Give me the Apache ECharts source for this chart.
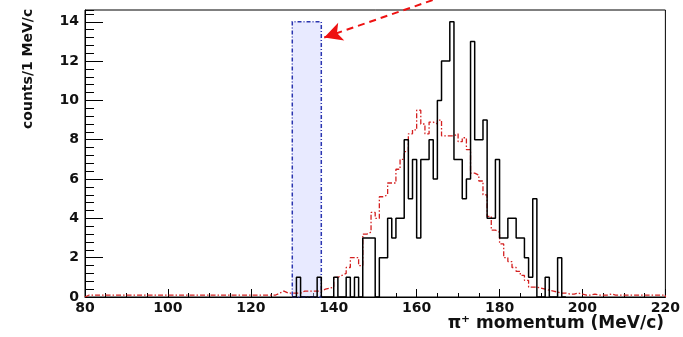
<!DOCTYPE html>
<html>
<head>
<meta charset="utf-8">
<script src="https://cdn.jsdelivr.net/npm/echarts@6/dist/echarts.min.js"></script>
<style>
  html, body { margin: 0; padding: 0; background: #fff; }
  #chart { width: 683px; height: 337px; }
</style>
</head>
<body>
<div id="chart"></div>
<script>
// x axis ticks (MeV/c) and y ticks (counts)
var xTicks = [80, 100, 120, 140, 160, 180, 200, 220];
var yTicks = [0, 2, 4, 6, 8, 10, 12, 14];

// data histogram, 1 MeV/c bins, first bin starts at blackStart
var blackStart = 130;
var blackCounts = [
  0, 1, 0, 0, 0, 0, 1, 0, 0, 0,     // 130-139
  1, 0, 0, 1, 0, 1, 0, 3, 3, 3,     // 140-149
  0, 2, 2, 4, 3, 4, 4, 8, 5, 7,     // 150-159
  3, 7, 7, 8, 6, 10, 12, 12, 14, 7, // 160-169
  7, 5, 6, 13, 8, 8, 9, 4, 4, 7,    // 170-179
  3, 3, 4, 4, 3, 3, 2, 1, 5, 0,     // 180-189
  0, 1, 0, 0, 2, 0                  // 190-195
];

// simulation histogram (red dashed), 1 MeV/c bins from redStart
var redStart = 80;
var redCounts = [
  0.1, 0.1, 0.1, 0.1, 0.1, 0.1, 0.1, 0.1, 0.1, 0.1,   // 80-89
  0.1, 0.1, 0.1, 0.1, 0.1, 0.1, 0.1, 0.1, 0.1, 0.1,   // 90-99
  0.1, 0.1, 0.1, 0.1, 0.1, 0.1, 0.1, 0.1, 0.1, 0.1,   // 100-109
  0.1, 0.1, 0.1, 0.1, 0.1, 0.1, 0.1, 0.1, 0.1, 0.1,   // 110-119
  0.1, 0.1, 0.1, 0.1, 0.1, 0.1, 0.2, 0.3, 0.2, 0.2,   // 120-129
  0.2, 0.2, 0.3, 0.3, 0.3, 0.3, 0.3, 0.4, 0.45, 0.5,  // 130-139
  1.0, 1.1, 1.2, 1.5, 2.0, 2.0, 1.6, 3.2, 3.3, 4.3,   // 140-149
  4.0, 5.1, 5.2, 5.8, 5.8, 6.5, 7.0, 7.4, 8.3, 8.5,   // 150-159
  9.5, 8.8, 8.3, 8.9, 8.8, 9.0, 8.2, 8.2, 8.2, 8.3,   // 160-169
  7.9, 8.1, 7.5, 6.3, 6.2, 5.9, 5.2, 4.1, 3.4, 3.3,   // 170-179
  2.7, 2.0, 1.8, 1.5, 1.3, 1.1, 0.85, 0.5, 0.5, 0.45, // 180-189
  0.4, 0.35, 0.3, 0.25, 0.2, 0.2, 0.15, 0.15, 0.2, 0.15, // 190-199
  0.1, 0.1, 0.15, 0.1, 0.1, 0.1, 0.15, 0.1, 0.1, 0.1, // 200-209
  0.1, 0.1, 0.1, 0.1, 0.1, 0.1, 0.1, 0.1, 0.1, 0.1    // 210-219
];

// highlighted window and the arrow pointing at it
var boxRange = [130, 137];
var boxTop = 14;
var arrowFrom = [166.6, 15.3];
var arrowTo = [137.7, 13.2];

// turn bin contents into step points (step: 'end')
function histPoints(start, counts) {
  var pts = [[start, 0]];
  for (var i = 0; i < counts.length; i++) {
    pts.push([start + i, counts[i]]);
  }
  pts.push([start + counts.length, 0]);
  return pts;
}

var labelFont = 'DejaVu Sans';
var chart = echarts.init(document.getElementById('chart'));

var option = {
  animation: false,
  title: {
    text: 'π⁺ momentum (MeV/c)',
    right: 14,
    bottom: 0,
    textStyle: { fontFamily: labelFont, fontWeight: 'bold', fontSize: 17, color: '#111' }
  },
  graphic: [{
    type: 'text',
    x: 21,
    y: 129,
    rotation: Math.PI / 2,
    style: {
      text: 'counts/1 MeV/c',
      fontFamily: labelFont,
      fontWeight: 'bold',
      fontSize: 14,
      fill: '#111',
      textAlign: 'left',
      textVerticalAlign: 'top'
    }
  }],
  grid: {
    left: 85, right: 17, top: 10, bottom: 40,
    show: true, borderColor: '#000', borderWidth: 1
  },
  xAxis: [{
    type: 'value', min: 80, max: 220, interval: 20,
    axisLine: { lineStyle: { color: '#000', width: 1 } },
    axisTick: { inside: true, length: 8, lineStyle: { color: '#000' } },
    axisLabel: {
      margin: 4, color: '#111', fontFamily: labelFont, fontWeight: 'bold', fontSize: 14,
      customValues: xTicks
    },
    splitLine: { show: false }
  }, {
    type: 'value', min: 80, max: 220, interval: 5, position: 'bottom',
    axisLine: { show: false },
    axisTick: { inside: true, length: 4, lineStyle: { color: '#000' } },
    axisLabel: { show: false },
    splitLine: { show: false }
  }],
  yAxis: [{
    type: 'value', min: 0, max: 14.6,
    axisLine: { show: true, lineStyle: { color: '#000', width: 1 } },
    axisTick: { show: true, inside: true, length: 18, lineStyle: { color: '#000' }, customValues: yTicks },
    axisLabel: {
      margin: 6, color: '#111', fontFamily: labelFont, fontWeight: 'bold', fontSize: 14,
      customValues: yTicks
    },
    splitLine: { show: false }
  }, {
    type: 'value', min: 0, max: 14.6, interval: 0.4, position: 'left',
    axisLine: { show: false },
    axisTick: { show: true, inside: true, length: 9, lineStyle: { color: '#000' } },
    axisLabel: { show: false },
    splitLine: { show: false }
  }],
  series: [{
    name: 'simulation',
    type: 'line',
    step: 'end',
    symbol: 'none',
    data: histPoints(redStart, redCounts),
    lineStyle: { color: '#d42020', width: 1.3, type: [5, 2, 1.5, 2] },
    z: 2
  }, {
    name: 'data',
    type: 'line',
    step: 'end',
    symbol: 'none',
    data: histPoints(blackStart, blackCounts),
    lineStyle: { color: '#000', width: 1.5 },
    z: 3
  }, {
    name: 'window',
    type: 'line',
    data: [],
    clip: false,
    z: 4,
    markArea: {
      silent: true,
      itemStyle: {
        color: 'rgba(200, 205, 255, 0.42)',
        borderColor: '#2a35b0',
        borderWidth: 1.5,
        borderType: [4, 2, 1, 2]
      },
      data: [[{ coord: [boxRange[0], 0] }, { coord: [boxRange[1], boxTop] }]]
    }
  }]
};

chart.setOption(option);

// the arrow starts above the frame, so place it through the axis scales in pixels
var p0 = chart.convertToPixel({ xAxisIndex: 0, yAxisIndex: 0 }, arrowFrom);
var p1 = chart.convertToPixel({ xAxisIndex: 0, yAxisIndex: 0 }, arrowTo);
chart.setOption({
  series: [{}, {}, {
    markLine: {
      silent: true,
      symbol: ['none', 'arrow'],
      symbolSize: [14, 18],
      label: { show: false },
      lineStyle: { color: '#ee1111', width: 2, type: [7, 5] },
      data: [[{ x: p0[0], y: p0[1] }, { x: p1[0], y: p1[1] }]]
    }
  }]
});
</script>
</body>
</html>
